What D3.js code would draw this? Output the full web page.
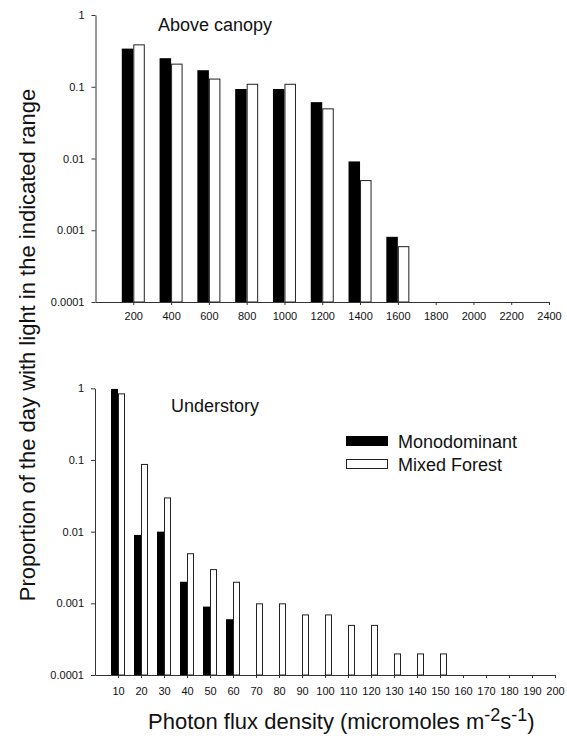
<!DOCTYPE html>
<html>
<head>
<meta charset="utf-8">
<script src="https://cdn.jsdelivr.net/npm/d3@7"></script>
<style>
  body { margin: 0; background: #fff; }
  svg { display: block; font-family: "Liberation Sans", Arial, sans-serif; }
  .axis text { font-size: 11px; fill: #111; font-family: "Liberation Sans", Arial, sans-serif; }
  .axis path, .axis line { stroke: #333; }
</style>
</head>
<body>
<div id="chart"></div>
<script>
// log-scale y ticks shared by both panels
var yTickValues = [1, 0.1, 0.01, 0.001, 0.0001];
var yTickLabels = ['1', '0.1', '0.01', '0.001', '0.0001'];

// above canopy, bins of 200
var topBins = [200, 400, 600, 800, 1000, 1200, 1400, 1600, 1800, 2000, 2200, 2400];
var topMono = [0.34, 0.25, 0.17, 0.093, 0.093, 0.061, 0.0091, 0.00081, null, null, null, null];
var topMixed = [0.39, 0.21, 0.13, 0.11, 0.11, 0.05, 0.005, 0.0006, null, null, null, null];

// understory, bins of 10
var botBins = [10, 20, 30, 40, 50, 60, 70, 80, 90, 100, 110, 120, 130, 140, 150, 160, 170, 180, 190, 200];
var botMono = [0.98, 0.009, 0.01, 0.002, 0.0009, 0.0006, null, null, null, null, null, null, null, null, null, null, null, null, null, null];
var botMixed = [0.85, 0.088, 0.03, 0.005, 0.003, 0.002, 0.001, 0.001, 0.0007, 0.0007, 0.0005, 0.0005, 0.0002, 0.0002, 0.0002, null, null, null, null, null];

var seriesNames = ['Monodominant', 'Mixed Forest'];

var W = 567, H = 740;
var svg = d3.select('#chart').append('svg')
    .attr('width', W)
    .attr('height', H);

function panel(cfg) {
    var x = d3.scaleLinear().domain([0, cfg.xMax]).range([cfg.x0, cfg.x1]);
    var y = d3.scaleLog().domain([0.0001, 1]).range([cfg.yBottom, cfg.yTop]);

    var g = svg.append('g');

    var rows = cfg.bins.map(function (b, i) {
        return { bin: b, mono: cfg.mono[i], mixed: cfg.mixed[i] };
    });

    // black bars, left of the tick
    g.selectAll('.mono')
        .data(rows.filter(function (d) { return d.mono != null; }))
        .join('rect')
        .attr('class', 'mono')
        .attr('x', function (d) { return x(d.bin) - cfg.barW; })
        .attr('y', function (d) { return y(d.mono); })
        .attr('width', cfg.barW)
        .attr('height', function (d) { return cfg.yBottom - y(d.mono); })
        .style('fill', '#000');

    // open bars, right of the tick
    g.selectAll('.mixed')
        .data(rows.filter(function (d) { return d.mixed != null; }))
        .join('rect')
        .attr('class', 'mixed')
        .attr('x', function (d) { return x(d.bin) + 0.5; })
        .attr('y', function (d) { return y(d.mixed) + 0.5; })
        .attr('width', cfg.barW - 1)
        .attr('height', function (d) { return cfg.yBottom - y(d.mixed) - 0.5; })
        .style('fill', '#fff')
        .style('stroke', '#222')
        .style('stroke-width', 1);

    var yAxis = d3.axisLeft(y)
        .tickValues(yTickValues)
        .tickFormat(function (d, i) { return yTickLabels[i]; })
        .tickSize(4)
        .tickSizeOuter(0)
        .tickPadding(7);

    g.append('g')
        .attr('class', 'axis')
        .attr('transform', 'translate(' + cfg.x0 + ',0)')
        .call(yAxis);

    var xAxis = d3.axisBottom(x)
        .tickValues(cfg.bins)
        .tickFormat(d3.format('d'))
        .tickSize(3)
        .tickSizeOuter(0)
        .tickPadding(cfg.xPad);

    g.append('g')
        .attr('class', 'axis')
        .attr('transform', 'translate(0,' + cfg.yBottom + ')')
        .call(xAxis);

    g.append('text')
        .attr('x', cfg.titleX)
        .attr('y', cfg.titleY)
        .style('font-size', '18px')
        .style('fill', '#111')
        .text(cfg.title);
}

panel({
    bins: topBins, mono: topMono, mixed: topMixed,
    xMax: 2400, x0: 95.5, x1: 549,
    yTop: 15, yBottom: 302, barW: 11.5, xPad: 7,
    title: 'Above canopy', titleX: 158, titleY: 31
});

panel({
    bins: botBins, mono: botMono, mixed: botMixed,
    xMax: 200, x0: 95, x1: 555,
    yTop: 388.3, yBottom: 675, barW: 7, xPad: 9,
    title: 'Understory', titleX: 171, titleY: 412
});

// legend
var legend = svg.append('g').attr('transform', 'translate(346,436)');
legend.selectAll('rect')
    .data(seriesNames)
    .join('rect')
    .attr('x', 0.5)
    .attr('y', function (d, i) { return i * 23 + 0.5; })
    .attr('width', 41)
    .attr('height', 9)
    .style('fill', function (d, i) { return i === 0 ? '#000' : '#fff'; })
    .style('stroke', function (d, i) { return i === 0 ? '#000' : '#222'; })
    .style('stroke-width', 1);
legend.selectAll('text')
    .data(seriesNames)
    .join('text')
    .attr('x', 52)
    .attr('y', function (d, i) { return 12 + i * 23; })
    .style('font-size', '18px')
    .style('fill', '#111')
    .text(function (d) { return d; });

// y axis title
svg.append('text')
    .attr('transform', 'translate(35,345) rotate(-90)')
    .style('text-anchor', 'middle')
    .style('font-size', '22px')
    .style('fill', '#111')
    .text('Proportion of the day with light in the indicated range');

// x axis title with superscripts
var xt = svg.append('text')
    .attr('x', 148)
    .attr('y', 729)
    .style('font-size', '22px')
    .style('fill', '#111');
xt.append('tspan').text('Photon flux density (micromoles m');
xt.append('tspan').attr('dy', -8).style('font-size', '18px').text('-2');
xt.append('tspan').attr('dy', 8).text('s');
xt.append('tspan').attr('dy', -8).style('font-size', '18px').text('-1');
xt.append('tspan').attr('dy', 8).text(')');
</script>
</body>
</html>
